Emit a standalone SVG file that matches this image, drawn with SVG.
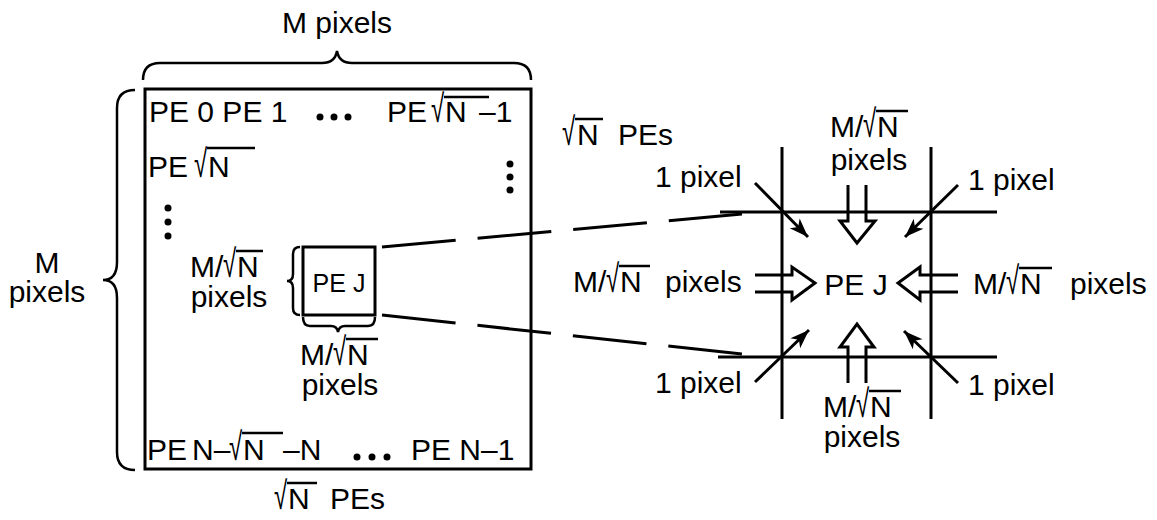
<svg xmlns="http://www.w3.org/2000/svg" width="1157" height="520" viewBox="0 0 1157 520">
<style>
text{font-family:"Liberation Sans",Arial,Helvetica,sans-serif;font-size:30px;fill:#000}
.s{font-size:25px}
.ln{stroke:#000;stroke-width:3;fill:none;stroke-linecap:butt}
.br{stroke:#000;stroke-width:2.5;fill:none}
.bar{stroke:#000;stroke-width:2.5}
.dot{fill:#000}
.dash{stroke:#000;stroke-width:3;fill:none;stroke-dasharray:74 22}
.ha{stroke:#000;stroke-width:3;fill:none;stroke-linejoin:miter}
.sa{stroke:#000;stroke-width:3;fill:none}
</style>
<defs>
<marker id="ah" markerUnits="userSpaceOnUse" viewBox="-20 -8 22 16" refX="0" refY="0" markerWidth="22" markerHeight="16" orient="auto">
<path d="M0,0 L-19,-7 L-14,0 L-19,7 Z" fill="#000"/>
</marker>
</defs>
<rect width="1157" height="520" fill="#fff"/>

<g id="top-brace">
<path class="br" d="M143,80 Q143,63 160,63 L322,63 Q335,63 337,51 Q339,63 352,63 L514,63 Q531,63 531,80"/>
<text x="337" y="33" text-anchor="middle">M pixels</text>
</g>

<g id="left-brace">
<path class="br" d="M135,90 Q117,90 117,108 L117,262 Q117,280 103,280 Q117,280 117,298 L117,452 Q117,470 135,470"/>
<text x="47" y="273" text-anchor="middle">M</text>
<text x="47" y="302" text-anchor="middle">pixels</text>
</g>

<g id="pe-array">
<rect class="ln" x="145" y="89" width="386" height="380"/>
<text x="149" y="122">PE 0 PE 1</text>
<circle class="dot" cx="320" cy="117" r="3.5"/><circle class="dot" cx="334" cy="117" r="3.5"/><circle class="dot" cx="348" cy="117" r="3.5"/>
<text x="387" y="122">PE</text>
<text transform="translate(431,122) scale(0.8,1.3)">√</text>
<text x="445" y="122">N</text>
<text x="479" y="122">–1</text>
<line class="bar" x1="444" y1="97" x2="489" y2="97"/>
<text x="148" y="177">PE</text>
<text transform="translate(194,177) scale(0.8,1.3)">√</text>
<text x="208" y="177">N</text>
<line class="bar" x1="207" y1="148" x2="255" y2="148"/>
<circle class="dot" cx="510" cy="164" r="3.5"/><circle class="dot" cx="510" cy="177" r="3.5"/><circle class="dot" cx="510" cy="190" r="3.5"/>
<circle class="dot" cx="168" cy="208" r="3.5"/><circle class="dot" cx="168" cy="222" r="3.5"/><circle class="dot" cx="168" cy="236" r="3.5"/>
<text x="147" y="460">PE</text>
<text x="192" y="460">N–</text>
<text transform="translate(229,460) scale(0.8,1.3)">√</text>
<text x="243" y="460">N</text>
<text x="283" y="460">–N</text>
<line class="bar" x1="242" y1="433" x2="283" y2="433"/>
<circle class="dot" cx="357" cy="457" r="3.5"/><circle class="dot" cx="372" cy="457" r="3.5"/><circle class="dot" cx="387" cy="457" r="3.5"/>
<text x="411" y="460">PE N–1</text>
</g>

<g id="col-count">
<text transform="translate(274,509) scale(0.8,1.3)">√</text>
<text x="288" y="509">N</text>
<text x="330" y="509">PEs</text>
<line class="bar" x1="287" y1="483" x2="317" y2="483"/>
</g>

<g id="row-count">
<text transform="translate(562,145) scale(0.8,1.3)">√</text>
<text x="577" y="145">N</text>
<text x="618" y="145">PEs</text>
<line class="bar" x1="575" y1="119" x2="603" y2="119"/>
</g>

<g id="pe-j-small">
<rect class="ln" x="303" y="247" width="72" height="68"/>
<text class="s" x="339" y="292" text-anchor="middle">PE J</text>
<path class="br" d="M300,247 Q293,247 293,254 L293,274 Q293,281 287,281 Q293,281 293,288 L293,308 Q293,315 300,315"/>
<text x="190" y="277">M/</text>
<text transform="translate(223,277) scale(0.8,1.3)">√</text>
<text x="237" y="277">N</text>
<line class="bar" x1="236" y1="251" x2="263" y2="251"/>
<text x="229" y="307" text-anchor="middle">pixels</text>
<path class="br" d="M303,317 Q303,326 310,326 L331,326 Q337,326 338,332 Q339,326 345,326 L368,326 Q375,326 375,317"/>
<text x="300" y="365">M/</text>
<text transform="translate(333,365) scale(0.8,1.3)">√</text>
<text x="347" y="365">N</text>
<line class="bar" x1="346" y1="339" x2="378" y2="339"/>
<text x="340" y="395" text-anchor="middle">pixels</text>
</g>

<g id="connectors">
<line class="dash" x1="382" y1="247" x2="742" y2="214"/>
<line class="dash" x1="382" y1="315" x2="742" y2="354"/>
</g>

<g id="pe-j-detail">
<line class="ln" x1="782" y1="147" x2="782" y2="419"/>
<line class="ln" x1="931" y1="147" x2="931" y2="419"/>
<line class="ln" x1="720" y1="212" x2="997" y2="212"/>
<line class="ln" x1="718" y1="357" x2="997" y2="357"/>
<text x="856" y="295" text-anchor="middle">PE J</text>
<path class="ha" d="M848,185 L848,221 L840,221 L857,243 L875,221 L866,221 L866,185"/>
<path class="ha" d="M848,383 L848,347 L840,347 L857,324 L874,347 L866,347 L866,383"/>
<path class="ha" d="M755,275 L792,275 L792,267 L815,283 L792,300 L792,292 L755,292"/>
<path class="ha" d="M958,275 L920,275 L920,267 L898,283 L920,300 L920,292 L958,292"/>
<line class="sa" x1="755" y1="183" x2="808" y2="237" marker-end="url(#ah)"/>
<line class="sa" x1="958" y1="185" x2="905" y2="237" marker-end="url(#ah)"/>
<line class="sa" x1="755" y1="382" x2="809" y2="330" marker-end="url(#ah)"/>
<line class="sa" x1="958" y1="383" x2="904" y2="331" marker-end="url(#ah)"/>
</g>

<g id="labels">
<text x="655" y="187">1 pixel</text>
<text x="968" y="190">1 pixel</text>
<text x="655" y="393">1 pixel</text>
<text x="968" y="395">1 pixel</text>
<text x="573" y="292">M/</text>
<text transform="translate(606,292) scale(0.8,1.3)">√</text>
<text x="620" y="292">N</text>
<line class="bar" x1="619" y1="266" x2="650" y2="266"/>
<text x="665" y="292">pixels</text>
<text x="973" y="294">M/</text>
<text transform="translate(1006,294) scale(0.8,1.3)">√</text>
<text x="1020" y="294">N</text>
<line class="bar" x1="1019" y1="268" x2="1052" y2="268"/>
<text x="1070" y="294">pixels</text>
<text x="830" y="137">M/</text>
<text transform="translate(863,137) scale(0.8,1.3)">√</text>
<text x="877" y="137">N</text>
<line class="bar" x1="876" y1="111" x2="908" y2="111"/>
<text x="869" y="170" text-anchor="middle">pixels</text>
<text x="823" y="417">M/</text>
<text transform="translate(856,417) scale(0.8,1.3)">√</text>
<text x="870" y="417">N</text>
<line class="bar" x1="869" y1="391" x2="901" y2="391"/>
<text x="862" y="447" text-anchor="middle">pixels</text>
</g>
</svg>
